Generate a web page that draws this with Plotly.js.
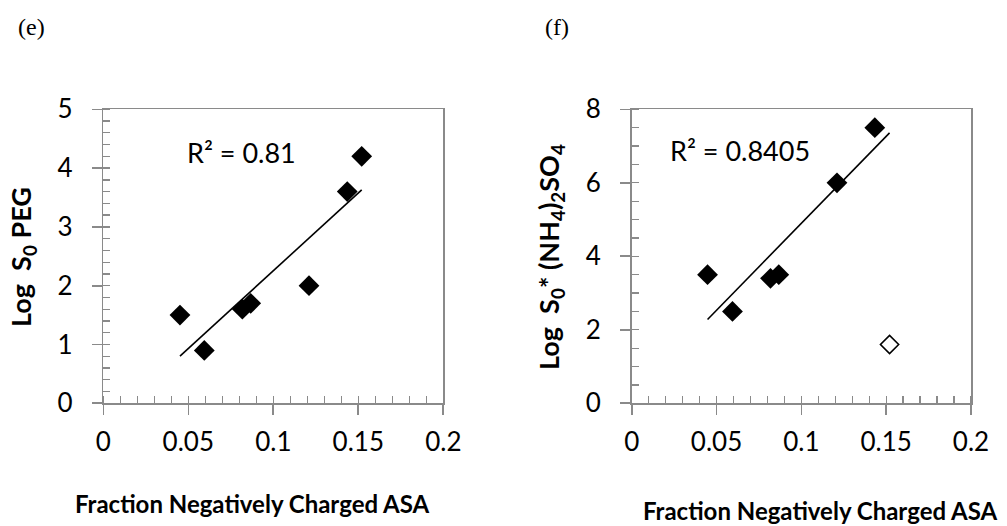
<!DOCTYPE html>
<html>
<head>
<meta charset="utf-8">
<script src="https://cdn.plot.ly/plotly-3.0.1.min.js"></script>
<style>html,body{margin:0;padding:0;background:#fff;}#chart{width:1007px;height:526px;}</style>
</head>
<body>
<div id="chart"></div>
<script>
// ---- data ----
// panel (e): Log S0 PEG vs fraction negatively charged ASA
const peg_x = [0.0451, 0.0594, 0.0818, 0.0867, 0.121, 0.1435, 0.152];
const peg_y = [1.5, 0.9, 1.6, 1.7, 2.0, 3.6, 4.2];
const peg_r2 = "R² = 0.81";

// panel (f): Log S0* (NH4)2SO4 — filled points (fitted)
const as_x = [0.0447, 0.0594, 0.0818, 0.0867, 0.121, 0.1433];
const as_y = [3.5, 2.5, 3.4, 3.5, 6.0, 7.5];
// panel (f): open point (excluded from fit)
const as_open_x = [0.152];
const as_open_y = [1.6];
const as_r2 = "R² = 0.8405";

const xTickVals = [0, 0.05, 0.1, 0.15, 0.2];
const xTickText = ["0", "0.05", "0.1", "0.15", "0.2"];

// ---- least-squares trendline from the data ----
function fit(xs, ys, x0, x1) {
  const n = xs.length;
  const mx = xs.reduce((a, b) => a + b, 0) / n;
  const my = ys.reduce((a, b) => a + b, 0) / n;
  let sxy = 0, sxx = 0;
  for (let i = 0; i < n; i++) { sxy += (xs[i] - mx) * (ys[i] - my); sxx += (xs[i] - mx) ** 2; }
  const b = sxy / sxx, a = my - b * mx;
  return {x: [x0, x1], y: [a + b * x0, a + b * x1]};
}
const pegFit = fit(peg_x, peg_y, Math.min(...peg_x), Math.max(...peg_x));
const asFit = fit(as_x, as_y, Math.min(...as_x), Math.max(...as_x, ...as_open_x));

const W = 1007, H = 526;
const px = v => v / W, py = v => 1 - v / H;

const FONT = "Lato, 'Open Sans', sans-serif";
const AXC = "#8a8a8a";

function xaxis(domain, anchor) {
  return {
    domain: domain, anchor: anchor, range: [0, 0.2],
    tickvals: xTickVals, ticktext: xTickText,
    showgrid: false, zeroline: false,
    showline: true, linecolor: AXC, linewidth: 1.6, mirror: true,
    ticks: "outside", ticklen: 10, tickwidth: 1.6, tickcolor: AXC,
    minor: {dtick: 0.01, ticks: "inside", ticklen: 7, tickwidth: 1.3, tickcolor: AXC, showgrid: false},
    ticklabelstandoff: 5,
    tickfont: {family: FONT, size: 26, color: "#000"},
    fixedrange: true
  };
}
function yaxis(domain, anchor, rng, dt, mdt) {
  return {
    domain: domain, anchor: anchor, range: rng, dtick: dt, tick0: 0,
    showgrid: false, zeroline: false,
    showline: true, linecolor: AXC, linewidth: 1.6, mirror: true,
    ticks: "outside", ticklen: 10, tickwidth: 1.6, tickcolor: AXC,
    minor: {dtick: mdt, ticks: "inside", ticklen: 7, tickwidth: 1.3, tickcolor: AXC, showgrid: false},
    ticklabelstandoff: 14,
    tickfont: {family: FONT, size: 26, color: "#000"},
    fixedrange: true
  };
}

const traces = [
  {x: pegFit.x, y: pegFit.y, xaxis: "x", yaxis: "y", mode: "lines",
   line: {color: "#000", width: 1.6}, hoverinfo: "skip", showlegend: false},
  {x: peg_x, y: peg_y, xaxis: "x", yaxis: "y", mode: "markers",
   marker: {symbol: "diamond", size: 16, color: "#000"}, showlegend: false},
  {x: asFit.x, y: asFit.y, xaxis: "x2", yaxis: "y2", mode: "lines",
   line: {color: "#000", width: 1.6}, hoverinfo: "skip", showlegend: false},
  {x: as_x, y: as_y, xaxis: "x2", yaxis: "y2", mode: "markers",
   marker: {symbol: "diamond", size: 16, color: "#000"}, showlegend: false},
  {x: as_open_x, y: as_open_y, xaxis: "x2", yaxis: "y2", mode: "markers",
   marker: {symbol: "diamond", size: 14, color: "#fff", line: {color: "#000", width: 1.6}}, showlegend: false}
];

function ann(text, x, y, font, extra) {
  return Object.assign({text: text, xref: "paper", yref: "paper", x: px(x), y: py(y),
    xanchor: "center", yanchor: "middle", showarrow: false, font: font}, extra || {});
}
const serif = {family: "'Liberation Serif', 'DejaVu Serif', serif", size: 24, color: "#000"};
const reg = {family: FONT, size: 27, color: "#000"};
const ytl = {family: FONT, size: 27, color: "#000"};
const ttl = {family: FONT, size: 24, color: "#000"};

const yDom = [py(403.3), py(109.3)];
const layout = {
  width: W, height: H,
  margin: {l: 0, r: 0, t: 0, b: 0},
  paper_bgcolor: "#fff", plot_bgcolor: "#fff",
  showlegend: false,
  xaxis: xaxis([px(103.3), px(443.3)], "y"),
  yaxis: yaxis(yDom, "x", [0, 5], 1, 0.2),
  xaxis2: xaxis([px(631.7), px(971)], "y2"),
  yaxis2: yaxis(yDom, "x2", [0, 8], 2, 0.5),
  annotations: [
    ann("(e)", 31, 27, serif),
    ann("(f)", 557, 27, serif),
    ann(peg_r2, 241, 152, reg),
    ann(as_r2, 740, 150, reg),
    ann("<b>Fraction Negatively Charged ASA</b>", 252, 503, ttl),
    ann("<b>Fraction Negatively Charged ASA</b>", 820, 510, ttl),
    ann("<b>Log  S<sub>0</sub> PEG</b>", 22, 257, ytl, {textangle: -90}),
    ann("<b>Log  S<sub>0</sub>* (NH<sub>4</sub>)<sub>2</sub>SO<sub>4</sub></b>", 550, 257, ytl, {textangle: -90})
  ]
};

Plotly.newPlot("chart", traces, layout, {displayModeBar: false, staticPlot: true});
</script>
</body>
</html>
